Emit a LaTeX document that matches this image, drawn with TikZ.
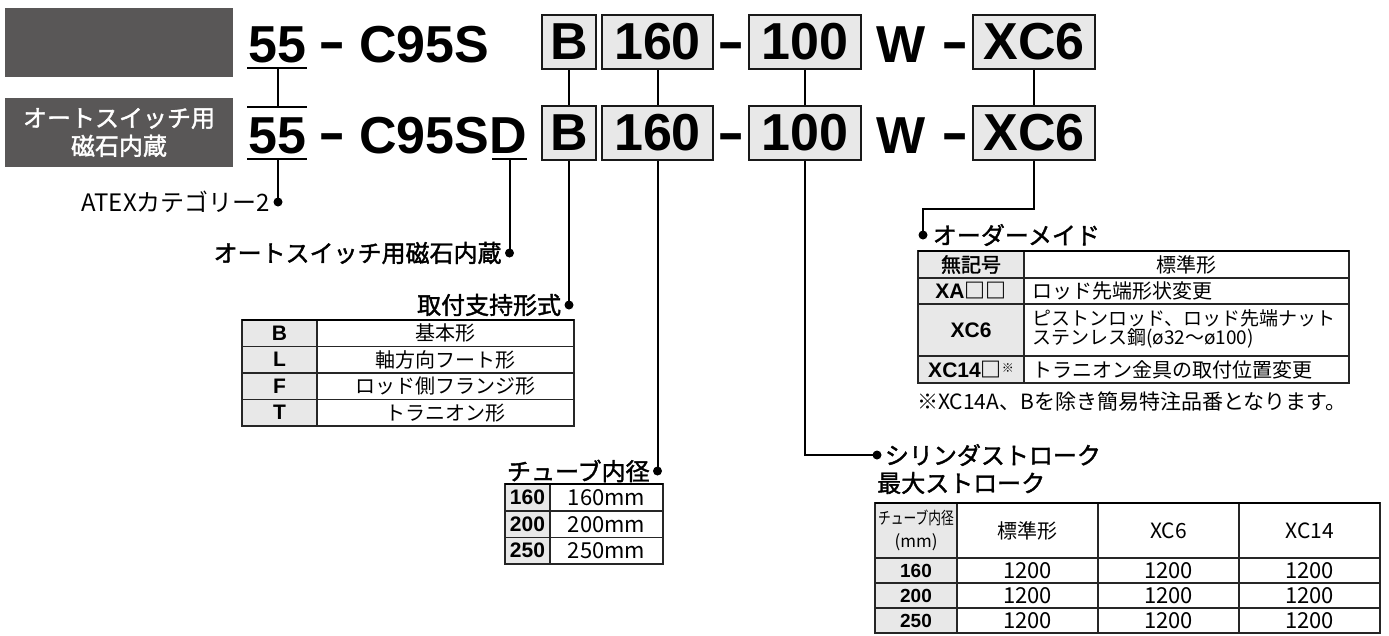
\documentclass[tikz,border=0pt]{standalone}
\usepackage{fontspec}
\setmainfont{Liberation Sans}
\newfontfamily\jp{Noto Sans CJK JP}
\newfontfamily\jpb{Noto Sans CJK JP}[FakeBold=1.6]
\usepackage{tikz}
\usetikzlibrary{positioning,calc}
\definecolor{darkbox}{HTML}{595757}
\definecolor{cellgray}{HTML}{E8E8E8}
\pgfkeys{tikz/codebox/.style={draw=black!90,line width=1.6pt,fill=cellgray,inner sep=0pt,minimum height=54pt,font=\bfseries\fontsize{52}{52}\selectfont}}
\pgfkeys{tikz/codetxt/.style={inner sep=0pt,font=\bfseries\fontsize{52}{52}\selectfont}}
\pgfkeys{tikz/link/.style={line width=2pt,draw=black}}
\pgfkeys{tikz/enddot/.style={circle,fill=black,inner sep=0pt,minimum size=9pt}}
\pgfkeys{tikz/lbl/.style={inner sep=0pt,font={\jpb\fontsize{24}{28}\selectfont}}}
\pgfkeys{tikz/lblr/.style={inner sep=0pt,font={\jp\fontsize{24}{28}\selectfont}}}
\pgfkeys{tikz/tabline/.style={line width=1.1pt,draw=black!85}}
\pgfkeys{tikz/tabtop/.style={line width=2.6pt,draw=black}}
\pgfkeys{tikz/cellb/.style={inner sep=0pt,font=\bfseries\fontsize{#1}{#1}\selectfont}}
\pgfkeys{tikz/cellj/.style={inner sep=0pt,font={\jp\fontsize{#1}{#1}\selectfont}}}

\begin{document}
\begin{tikzpicture}[x=1pt,y=-1pt]
  \useasboundingbox (0,0) rectangle (1389,635);
  \node[fill=darkbox,minimum width=228pt,minimum height=69pt] (blank) at (119,42.5) {};
  \node[fill=darkbox,minimum width=228pt,minimum height=69pt,text=white,align=center,font={\jpb\fontsize{24}{28}\selectfont}] (tag) at (119,132.5) {オートスイッチ用\\磁石内蔵};

  \node[codetxt,anchor=base west] (n55a) at (248,62) {55};
  \node[codetxt,anchor=base] (m1a) at (332.5,62) {\scalebox{0.8}[1.2]{–}};
  \node[codetxt,anchor=base west] (c95a) at (359,62) {C95S};
  \node[codebox,minimum width=54pt] (ba) at (569,42) {B};
  \node[codebox,minimum width=111pt] (d160a) at (657.5,42) {160};
  \node[codetxt,anchor=base] (m2a) at (731.5,62) {\scalebox{0.8}[1.2]{–}};
  \node[codebox,minimum width=112pt] (d100a) at (805,42) {100};
  \node[codetxt,anchor=base west] (wa) at (876,62) {W};
  \node[codetxt,anchor=base] (m3a) at (955.5,62) {\scalebox{0.8}[1.2]{–}};
  \node[codebox,minimum width=122pt] (xc6a) at (1034,42) {XC6};

  \node[codetxt,anchor=base west] (n55b) at (248,153) {55};
  \node[codetxt,anchor=base] (m1b) at (332.5,153) {\scalebox{0.8}[1.2]{–}};
  \node[codetxt,anchor=base west] (c95b) at (359,153) {C95SD};
  \node[codebox,minimum width=54pt] (bb) at (569,133) {B};
  \node[codebox,minimum width=111pt] (d160b) at (657.5,133) {160};
  \node[codetxt,anchor=base] (m2b) at (731.5,153) {\scalebox{0.8}[1.2]{–}};
  \node[codebox,minimum width=112pt] (d100b) at (805,133) {100};
  \node[codetxt,anchor=base west] (wb) at (876,153) {W};
  \node[codetxt,anchor=base] (m3b) at (955.5,153) {\scalebox{0.8}[1.2]{–}};
  \node[codebox,minimum width=122pt] (xc6b) at (1034,133) {XC6};

  \draw[link] (247,68) -- (307,68) (247,107) -- (307,107) (247,159) -- (307,159) (492,159) -- (527,159);
  \coordinate (u55a) at (278,68);
  \coordinate (o55b) at (278,107);
  \coordinate (u55b) at (278,159);
  \coordinate (uD) at (509.5,159);

  \node[enddot] (p55) at (278,202) {};
  \node[enddot] (pD) at (509.5,253) {};
  \node[enddot] (pB) at (569,305) {};
  \node[enddot] (p160) at (657.5,471) {};
  \node[enddot] (p100) at (877,455) {};
  \node[enddot] (pXC) at (923,235) {};

  \draw[link] (u55a) -- (o55b);
  \draw[link] (u55b) -- (p55.center);
  \draw[link] (uD) -- (pD.center);
  \draw[link] (ba) -- (bb);
  \draw[link] (bb) -- (pB.center);
  \draw[link] (d160a) -- (d160b);
  \draw[link] (d160b) -- (p160.center);
  \draw[link] (d100a) -- (d100b);
  \draw[link] (d100b) |- (p100.center);
  \draw[link] (xc6a) -- (xc6b);
  \draw[link] (xc6b.south) -- ++(0,48) -| (pXC.center);

  \node[lblr,left=3pt of p55] (lATEX) {ATEXカテゴリー2};
  \node[lbl,left=3pt of pD] (lD) {オートスイッチ用磁石内蔵};
  \node[lbl,left=3pt of pB] (lB) {取付支持形式};
  \node[lbl,left=3pt of p160] (l160) {チューブ内径};
  \node[lbl,right=3pt of p100] (l100) {シリンダストローク};
  \node[lbl,anchor=west] (lmax) at (877,483) {最大ストローク};
  \node[lbl,right=5pt of pXC] (lXC) {オーダーメイド};

  \fill[cellgray] (242,320) rectangle (317,426);
  \draw[tabline] (242,320) rectangle (574,426) (242,346.5) -- (574,346.5) (242,373) -- (574,373) (242,399.5) -- (574,399.5) (317,320) -- (317,426);
  \draw[tabtop] (242,320) -- (574,320);
  \node[cellb=21] (tB) at (279.5,333.25) {B};
  \node[cellb=21] (tL) at (279.5,359.75) {L};
  \node[cellb=21] (tF) at (279.5,386.25) {F};
  \node[cellb=21] (tT) at (279.5,412.75) {T};
  \node[cellj=20] (sB) at (445.5,333.25) {基本形};
  \node[cellj=20] (sL) at (445.5,359.75) {軸方向フート形};
  \node[cellj=20] (sF) at (445.5,386.25) {ロッド側フランジ形};
  \node[cellj=20] (sT) at (445.5,412.75) {トラニオン形};

  \fill[cellgray] (505,484) rectangle (550,564);
  \draw[tabline] (505,484) rectangle (663,564) (505,511) -- (663,511) (505,537.5) -- (663,537.5) (550,484) -- (550,564);
  \draw[tabtop] (505,484) -- (663,484);
  \node[cellb=21] (t160) at (527.5,497.5) {160};
  \node[cellb=21] (t200) at (527.5,524.25) {200};
  \node[cellb=21] (t250) at (527.5,550.75) {250};
  \node[cellj=22] (s160) at (606.5,497.5) {160mm};
  \node[cellj=22] (s200) at (606.5,524.25) {200mm};
  \node[cellj=22] (s250) at (606.5,550.75) {250mm};

  \fill[cellgray] (918,251) rectangle (1024,383);
  \draw[tabline] (918,251) rectangle (1349,383) (918,278) -- (1349,278) (918,304) -- (1349,304) (918,356) -- (1349,356) (1024,251) -- (1024,383);
  \draw[tabtop] (918,251) -- (1349,251);
  \node[inner sep=0pt,font={\jpb\fontsize{20}{20}\selectfont}] (oStd) at (971,264.5) {無記号};
  \node[cellb=21] (oXA) at (971,291) {XA{\jp □□}};
  \node[cellb=21] (oXC6) at (971,330) {XC6};
  \node[cellb=21] (oXC14) at (971,369.5) {XC14{\jp □\raisebox{5pt}{\fontsize{12}{12}\selectfont ※}}};
  \node[cellj=20] (dStd) at (1186.5,264.5) {標準形};
  \node[cellj=20,anchor=west] (dXA) at (1032,291) {ロッド先端形状変更};
  \node[cellj=19,anchor=west,align=left,font={\jp\fontsize{19}{19.5}\selectfont}] (dXC6) at (1032,329) {ピストンロッド、ロッド先端ナット\\ステンレス鋼(ø32～ø100)};
  \node[cellj=20,anchor=west] (dXC14) at (1032,369.5) {トラニオン金具の取付位置変更};
  \node[cellj=21,anchor=west] (note) at (917,402) {※XC14A、Bを除き簡易特注品番となります。};

  \fill[cellgray] (875,503) rectangle (957,633);
  \draw[tabline] (875,503) rectangle (1380,633) (875,558) -- (1380,558) (875,583) -- (1380,583) (875,608) -- (1380,608) (957,503) -- (957,633) (1098,503) -- (1098,633) (1239,503) -- (1239,633);
  \draw[tabtop] (875,503) -- (1380,503);
  \node[cellj=17,align=center,font={\jp\fontsize{17}{23}\selectfont}] (hBore) at (916,530.5) {\scalebox{0.75}[1]{チューブ内径}\\(mm)};
  \node[cellj=20] (hStd) at (1027.5,530.5) {標準形};
  \node[cellj=21] (hXC6) at (1168.5,530.5) {XC6};
  \node[cellj=21] (hXC14) at (1309.5,530.5) {XC14};
  \node[cellb=19] (r160) at (916,570.5) {160};
  \node[cellb=19] (r200) at (916,595.5) {200};
  \node[cellb=19] (r250) at (916,620.5) {250};
  \node[cellj=22] (v160a) at (1027.5,570.5) {1200};
  \node[cellj=22] (v160b) at (1168.5,570.5) {1200};
  \node[cellj=22] (v160c) at (1309.5,570.5) {1200};
  \node[cellj=22] (v200a) at (1027.5,595.5) {1200};
  \node[cellj=22] (v200b) at (1168.5,595.5) {1200};
  \node[cellj=22] (v200c) at (1309.5,595.5) {1200};
  \node[cellj=22] (v250a) at (1027.5,620.5) {1200};
  \node[cellj=22] (v250b) at (1168.5,620.5) {1200};
  \node[cellj=22] (v250c) at (1309.5,620.5) {1200};
\end{tikzpicture}
\end{document}
